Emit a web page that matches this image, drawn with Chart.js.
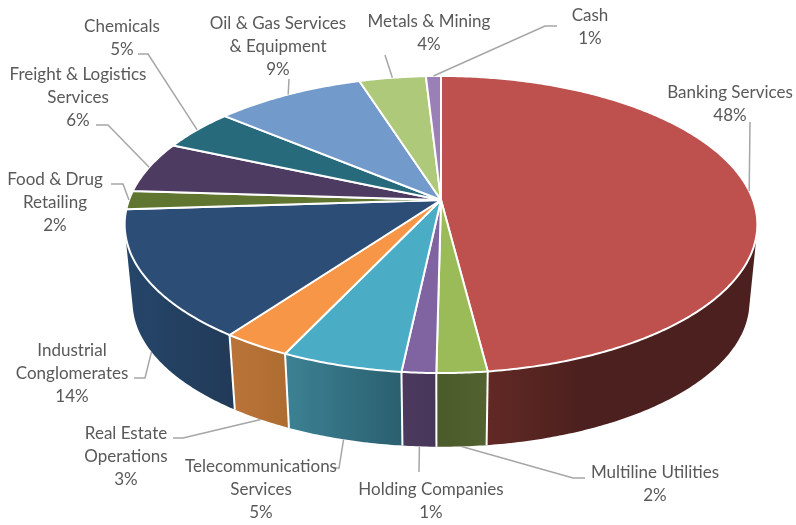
<!DOCTYPE html>
<html>
<head>
<meta charset="utf-8">
<title>Portfolio by sector</title>
<script src="https://cdn.jsdelivr.net/npm/chart.js@4"></script>
<style>
  html, body { margin: 0; padding: 0; background: #fff; }
  #wrap { width: 796px; height: 525px; }
</style>
</head>
<body>
<div id="wrap"><canvas id="pie3d" width="796" height="525"></canvas></div>
<script>
/* data, clockwise from 12 o'clock */
const categories = [
  ["Banking Services"], ["Multiline Utilities"], ["Holding Companies"],
  ["Telecommunications", "Services"], ["Real Estate", "Operations"],
  ["Industrial", "Conglomerates"], ["Food & Drug", "Retailing"],
  ["Freight & Logistics", "Services"], ["Chemicals"],
  ["Oil & Gas Services", "& Equipment"], ["Metals & Mining"], ["Cash"],
];
const values = [48.0, 2.2, 1.49, 5.3, 3.0, 14.0, 2.0, 5.6, 4.51, 9.0, 4.0, 0.9];
const percentLabels = ["48%", "2%", "1%", "5%", "3%", "14%", "2%", "6%", "5%", "9%", "4%", "1%"];

const topColors = ["#BE504D", "#9BBB59", "#8064A2", "#4BACC6", "#F79646", "#2C4D75",
  "#5F7530", "#4D3B62", "#276A7C", "#729ACA", "#AFC97B", "#9A80B6"];
const wallLeft = ["#622925", "#4A5A28", "#4B3A5C", "#3C8294", "#BA743A", "#25466A",
  "#4c5e26", "#3e2f4f", "#1f5563", "#5b7ba2", "#8ca162", "#7b6692"];
const wallRight = ["#4C201E", "#526231", "#463659", "#2A5F6F", "#AE6C30", "#223A58",
  "#4c5e26", "#3e2f4f", "#1f5563", "#5b7ba2", "#8ca162", "#7b6692"];

/* view of the disc: top face and underside, with some perspective */
const view = { cx: 441, cyTop: 200, cyBottom: 278, rx: 312, ry: 144.5, persp: 0.165, shrink: 0.975 };

function project(angle, level) {
  const x = Math.cos(angle), y = Math.sin(angle);
  const s = 1 / (1 - view.persp * y);
  const f = level ? view.shrink : 1;
  return [view.cx + view.rx * f * x * s, (level ? view.cyBottom : view.cyTop) + view.ry * f * y * s];
}

function rimPoints(from, to, level) {
  const n = Math.max(2, Math.ceil(Math.abs(to - from) / 0.01));
  const pts = [];
  for (let i = 0; i <= n; i++) pts.push(project(from + (to - from) * i / n, level));
  return pts;
}

function tracePath(ctx, pts) {
  ctx.beginPath();
  pts.forEach((p, i) => (i ? ctx.lineTo(p[0], p[1]) : ctx.moveTo(p[0], p[1])));
}

/* labels: text centre, first line y, leader line from the rim outwards */
const labelLayout = [
  { cx: 730, y: 93, leader: [[750, 122]] },
  { cx: 655, y: 473, leader: [[573, 478], [585, 478]] },
  { cx: 431, y: 490, leader: [[419, 472]] },
  { cx: 261, y: 467, leader: [[339, 468], [333, 468]] },
  { cx: 126, y: 434, leader: [[183, 438], [173, 438]] },
  { cx: 72, y: 351, leader: [[145, 378], [134, 378]] },
  { cx: 55, y: 180, leader: [[123, 184], [111, 184]] },
  { cx: 78, y: 75, leader: [[108, 125], [96, 125]] },
  { cx: 122, y: 27, leader: [[148, 54], [138, 54]] },
  { cx: 278, y: 24, leader: [[289, 79]] },
  { cx: 429, y: 22, leader: [[385, 55]] },
  { cx: 590, y: 16, leader: [[545, 26], [557, 26]] },
];

const pie3dPlugin = {
  id: "pie3d",
  // the library works out the slice angles, we only project them
  beforeDatasetsDraw(chart) {
    const ctx = chart.ctx;
    const arcs = chart.getDatasetMeta(0).data;
    const lo = -0.25, hi = Math.PI + 0.25;

    const order = arcs.map((a, i) => i).sort((p, q) => {
      const mp = (arcs[p].startAngle + arcs[p].endAngle) / 2;
      const mq = (arcs[q].startAngle + arcs[q].endAngle) / 2;
      return Math.sin(mp) - Math.sin(mq);
    });

    ctx.save();
    ctx.lineJoin = "round";
    order.forEach((i) => {
      const from = Math.max(arcs[i].startAngle, lo), to = Math.min(arcs[i].endAngle, hi);
      if (to <= from) return;
      const up = rimPoints(from, to, 0), down = rimPoints(from, to, 1);
      const xs = up.concat(down).map((p) => p[0]);
      const grad = ctx.createLinearGradient(Math.min(...xs), 0, Math.max(...xs), 0);
      // banking wall goes dark quickly, the rest shade evenly
      const bank = i === 0;
      grad.addColorStop(0, wallLeft[i]);
      grad.addColorStop(bank ? 0.35 : 1, wallRight[i]);
      if (bank) grad.addColorStop(1, wallRight[i]);
      // one quad per step, all wound the same way, so the fill has no holes at the silhouette
      ctx.beginPath();
      for (let n = 0; n < up.length - 1; n++) {
        let q = [up[n], up[n + 1], down[n + 1], down[n]];
        let area = 0;
        q.forEach((p, k) => {
          const r = q[(k + 1) % 4];
          area += p[0] * r[1] - r[0] * p[1];
        });
        if (area < 0) q = q.reverse();
        q.forEach((p, k) => (k ? ctx.lineTo(p[0], p[1]) : ctx.moveTo(p[0], p[1])));
        ctx.closePath();
      }
      ctx.fillStyle = grad;
      ctx.fill("nonzero");
    });
    // white seams between the wall pieces
    ctx.strokeStyle = "#fff";
    ctx.lineWidth = 2;
    arcs.forEach((arc) => {
      const a = arc.endAngle;
      if (Math.sin(a) < 0.2) return;
      tracePath(ctx, [project(a, 0), project(a, 1)]);
      ctx.stroke();
    });
    // top face
    arcs.forEach((arc, i) => {
      const pts = [[view.cx, view.cyTop]].concat(rimPoints(arc.startAngle, arc.endAngle, 0));
      tracePath(ctx, pts);
      ctx.closePath();
      ctx.fillStyle = topColors[i];
      ctx.fill();
      ctx.stroke();
    });
    ctx.restore();
    return false;
  },
  // returning false above also skips afterDatasetsDraw, so labels go here
  afterDraw(chart) {
    const ctx = chart.ctx;
    const arcs = chart.getDatasetMeta(0).data;
    ctx.save();
    ctx.strokeStyle = "#A6A6A6";
    ctx.lineWidth = 1.5;
    arcs.forEach((arc, i) => {
      const mid = (arc.startAngle + arc.endAngle) / 2;
      const start = project(mid, Math.sin(mid) > 0.3 ? 1 : 0);
      tracePath(ctx, [start].concat(labelLayout[i].leader));
      ctx.stroke();
    });
    ctx.fillStyle = "#595959";
    ctx.font = '17px Lato, "Open Sans", sans-serif';
    ctx.textAlign = "center";
    ctx.textBaseline = "middle";
    categories.forEach((lines, i) => {
      const l = labelLayout[i];
      lines.concat(percentLabels[i]).forEach((t, n) => ctx.fillText(t, l.cx, l.y + n * 23));
    });
    ctx.restore();
  },
};

new Chart(document.getElementById("pie3d"), {
  type: "pie",
  data: {
    labels: categories.map((c) => c.join(" ")),
    datasets: [{ data: values, backgroundColor: topColors, borderColor: "#fff" }],
  },
  options: {
    responsive: false,
    animation: false,
    plugins: { legend: { display: false }, tooltip: { enabled: false } },
  },
  plugins: [pie3dPlugin],
});
</script>
</body>
</html>
